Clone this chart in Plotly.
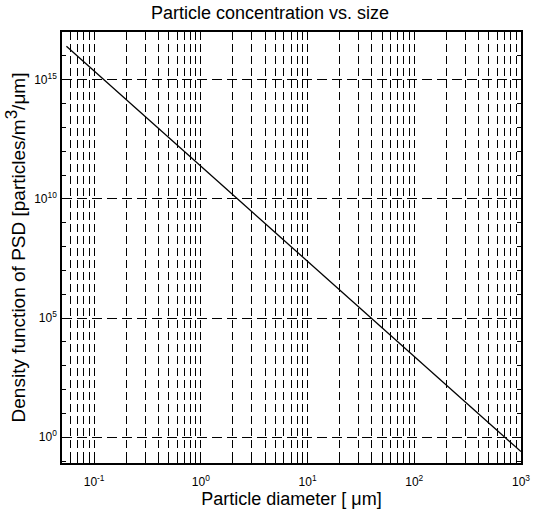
import numpy as np
import plotly.graph_objects as go

# Data (power law line, two end points)
diameter_um = [0.055, 1000.0]
density = [2.5e16, 0.25]

x_major = [0.1, 1, 10, 100, 1000]
x_major_text = ["10<sup>-1</sup>", "10<sup>0</sup>", "10<sup>1</sup>", "10<sup>2</sup>", "10<sup>3</sup>"]
x_minor = [m * 10.0 ** e for e in range(-2, 3) for m in range(2, 10)]
x_minor = [v for v in x_minor if 0.05 <= v <= 1000]

y_major = [1, 1e5, 1e10, 1e15]
y_major_text = ["10<sup>0</sup>", "10<sup>5</sup>", "10<sup>10</sup>", "10<sup>15</sup>"]
y_minor = [10.0 ** e for e in range(-1, 18) if e % 5 != 0]

font_family = "Liberation Sans, Arial, sans-serif"

fig = go.Figure()
fig.add_trace(go.Scatter(x=diameter_um, y=density, mode="lines",
                         line=dict(color="black", width=1.3), showlegend=False))

fig.update_layout(
    width=540, height=512,
    margin=dict(l=62, r=10, t=32, b=47),
    paper_bgcolor="white", plot_bgcolor="white",
    font=dict(family=font_family, color="black", size=12),
    title=dict(text="Particle concentration vs. size", x=0.5, xanchor="center",
               y=1 - 13 / 512, yanchor="middle", yref="container",
               font=dict(size=18, family=font_family, color="black")),
)

fig.update_xaxes(
    type="log", range=[np.log10(0.05), 3],
    tickmode="array", tickvals=x_major, ticktext=x_major_text,
    ticks="inside", ticklen=5, tickcolor="black",
    ticklabelstandoff=7,
    showgrid=True, gridcolor="black", gridwidth=1, griddash="8px,4px",
    showline=True, linecolor="black", linewidth=1.5, mirror="ticks",
    zeroline=False,
    tickfont=dict(size=12, family=font_family),
    minor=dict(tickmode="array", tickvals=x_minor, ticks="inside", ticklen=4,
               tickcolor="black", showgrid=True, gridcolor="black",
               gridwidth=1, griddash="8px,4px"),
    title=dict(text="Particle diameter [ μm]", standoff=0,
               font=dict(size=18, family=font_family)),
)

fig.update_yaxes(
    type="log", range=[-1.08, 17],
    tickmode="array", tickvals=y_major, ticktext=y_major_text,
    ticks="inside", ticklen=5, tickcolor="black",
    ticklabelstandoff=1,
    showgrid=True, gridcolor="black", gridwidth=1, griddash="10px,5px",
    showline=True, linecolor="black", linewidth=1.5, mirror="ticks",
    zeroline=False,
    tickfont=dict(size=12, family=font_family),
    minor=dict(tickmode="array", tickvals=y_minor, ticks="inside", ticklen=4,
               tickcolor="black", showgrid=False),
    title=dict(text="Density function of PSD [particles/m<sup><span style='font-size:17px'>3</span></sup>/μm]",
               standoff=4, font=dict(size=19, family=font_family)),
)

fig.write_html("out.html")
